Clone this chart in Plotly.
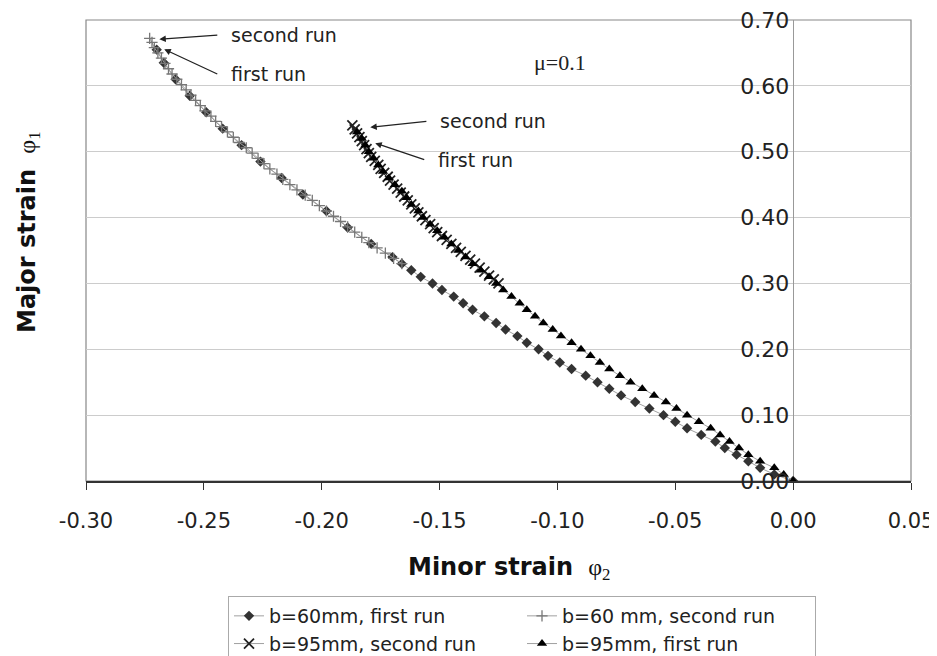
import plotly.graph_objects as go

# b=60mm, first run (diamonds)
b60_first_x = [0.000, -0.008, -0.014, -0.019, -0.024, -0.029, -0.033, -0.039, -0.045, -0.050,
               -0.055, -0.061, -0.067, -0.073, -0.078, -0.083, -0.088, -0.094, -0.099, -0.104,
               -0.108, -0.113, -0.117, -0.122, -0.126, -0.131, -0.136, -0.140, -0.144, -0.149,
               -0.153, -0.158, -0.162, -0.166, -0.170,
               -0.179, -0.189, -0.198, -0.208, -0.217, -0.226, -0.234, -0.242, -0.249, -0.256,
               -0.262, -0.267, -0.270]
b60_first_y = [0.000, 0.010, 0.020, 0.030, 0.040, 0.050, 0.060, 0.070, 0.080, 0.090,
               0.100, 0.110, 0.120, 0.130, 0.140, 0.150, 0.160, 0.170, 0.180, 0.190,
               0.200, 0.210, 0.220, 0.230, 0.240, 0.250, 0.260, 0.270, 0.280, 0.290,
               0.300, 0.310, 0.320, 0.330, 0.340,
               0.360, 0.385, 0.410, 0.435, 0.460, 0.485, 0.510, 0.535, 0.560, 0.585,
               0.610, 0.635, 0.655]

# b=60 mm, second run (plus)
b60_second_x = [-0.166, -0.1695, -0.173, -0.1765, -0.180, -0.183, -0.186, -0.189, -0.192, -0.195,
                -0.198, -0.201, -0.204, -0.207, -0.2105, -0.2135, -0.2165, -0.219, -0.222, -0.2245,
                -0.227, -0.2295, -0.232, -0.235, -0.2375, -0.240, -0.2425, -0.245, -0.247, -0.2495,
                -0.2515, -0.2535, -0.2555, -0.2575, -0.2595, -0.2615, -0.2635, -0.265, -0.2665, -0.268,
                -0.2695, -0.271, -0.272, -0.273]
b60_second_y = [0.330, 0.338, 0.346, 0.354, 0.362, 0.370, 0.378, 0.386, 0.394, 0.402,
                0.410, 0.418, 0.426, 0.434, 0.442, 0.450, 0.458, 0.466, 0.474, 0.482,
                0.490, 0.498, 0.506, 0.514, 0.522, 0.530, 0.538, 0.546, 0.554, 0.562,
                0.570, 0.578, 0.586, 0.594, 0.602, 0.610, 0.618, 0.626, 0.634, 0.642,
                0.650, 0.658, 0.666, 0.672]

# b=95mm, second run (x)
b95_second_x = [-0.125, -0.127, -0.129, -0.131, -0.133, -0.135, -0.137, -0.139, -0.141, -0.143,
                -0.145, -0.147, -0.149, -0.151, -0.1525, -0.154, -0.156, -0.1575, -0.159, -0.1605,
                -0.162, -0.1635, -0.165, -0.1665, -0.168, -0.1695, -0.171, -0.172, -0.1735, -0.175,
                -0.176, -0.1775, -0.179, -0.180, -0.181, -0.182, -0.183, -0.184, -0.185, -0.186,
                -0.187]
b95_second_y = [0.300, 0.306, 0.312, 0.318, 0.324, 0.330, 0.336, 0.342, 0.348, 0.354,
                0.360, 0.366, 0.372, 0.378, 0.384, 0.390, 0.396, 0.402, 0.408, 0.414,
                0.420, 0.426, 0.432, 0.438, 0.444, 0.450, 0.456, 0.462, 0.468, 0.474,
                0.480, 0.486, 0.492, 0.498, 0.504, 0.510, 0.516, 0.522, 0.528, 0.534,
                0.540]

# b=95mm, first run (triangles)
b95_first_x = [0.000, -0.004, -0.008, -0.014, -0.019, -0.023, -0.027, -0.031, -0.035, -0.040,
               -0.045, -0.0495, -0.054, -0.059, -0.064, -0.069, -0.0735, -0.078, -0.082, -0.086,
               -0.090, -0.094, -0.0985, -0.102, -0.106, -0.1095, -0.113, -0.116, -0.1195, -0.123,
               -0.126, -0.129, -0.1325, -0.136, -0.139, -0.142, -0.145, -0.148, -0.151, -0.154,
               -0.157, -0.159, -0.162, -0.164, -0.166, -0.169, -0.1715, -0.174, -0.176, -0.178,
               -0.180, -0.1815, -0.183, -0.185]
b95_first_y = [0.00, 0.01, 0.02, 0.03, 0.04, 0.05, 0.06, 0.07, 0.08, 0.09,
               0.10, 0.11, 0.12, 0.13, 0.14, 0.15, 0.16, 0.17, 0.18, 0.19,
               0.20, 0.21, 0.22, 0.23, 0.24, 0.25, 0.26, 0.27, 0.28, 0.29,
               0.30, 0.31, 0.32, 0.33, 0.34, 0.35, 0.36, 0.37, 0.38, 0.39,
               0.40, 0.41, 0.42, 0.43, 0.44, 0.45, 0.46, 0.47, 0.48, 0.49,
               0.50, 0.51, 0.52, 0.53]

x_ticks = [-0.30, -0.25, -0.20, -0.15, -0.10, -0.05, 0.00, 0.05]
y_ticks = [0.00, 0.10, 0.20, 0.30, 0.40, 0.50, 0.60, 0.70]

# callout labels: (text, arrow head x, head y, tail x, tail y)
callouts = [
    ("second run", -0.2689, 0.6707, -0.2443, 0.6770),
    ("first run", -0.2668, 0.6555, -0.2443, 0.6180),
    ("second run", -0.1794, 0.5370, -0.1556, 0.5460),
    ("first run", -0.1773, 0.5130, -0.1565, 0.4880),
]

FONT = "DejaVu Sans"
SERIF = "Liberation Serif"
LINE = "#a0a0a0"

# plot area in screen pixels (page has an 8px body margin)
PX0, PX1, PY0, PY1 = 86, 911, 20, 481
PW, PH = PX1 - PX0, PY1 - PY0
OFF = 8

fig = go.Figure()
fig.add_trace(go.Scatter(
    x=b60_first_x, y=b60_first_y, mode="lines+markers", name="b=60mm, first run",
    line=dict(color=LINE, width=1),
    marker=dict(symbol="diamond", size=8, color="#333333")))
fig.add_trace(go.Scatter(
    x=b60_second_x, y=b60_second_y, mode="lines+markers", name="b=60 mm, second run",
    line=dict(color=LINE, width=1),
    marker=dict(symbol="cross-thin", size=8, color="#777777",
                line=dict(color="#777777", width=1.3))))
fig.add_trace(go.Scatter(
    x=b95_second_x, y=b95_second_y, mode="lines+markers", name="b=95mm, second run",
    line=dict(color=LINE, width=1),
    marker=dict(symbol="x-thin", size=10, color="#222222",
                line=dict(color="#222222", width=1.8))))
fig.add_trace(go.Scatter(
    x=b95_first_x, y=b95_first_y, mode="lines+markers", name="b=95mm, first run",
    line=dict(color=LINE, width=1),
    marker=dict(symbol="triangle-up", size=9, color="#000000")))

annotations = []
label_font = dict(family=FONT, size=19, color="#222222")
for t, hx, hy, tx, ty in callouts:
    annotations.append(dict(
        x=hx, y=hy, ax=tx, ay=ty, xref="x", yref="y", axref="x", ayref="y",
        text="&nbsp;&nbsp;" + t, showarrow=True, xanchor="left", yanchor="middle",
        arrowhead=2, arrowsize=1, arrowwidth=1.3, arrowcolor="#222222",
        standoff=0, font=label_font))

annotations.append(dict(x=-0.0988, y=0.636, xref="x", yref="y", text="μ=0.1", showarrow=False,
                        xanchor="center", yanchor="middle",
                        font=dict(family=SERIF, size=22, color="#222222")))

# axis titles
annotations.append(dict(
    x=(406 - PX0) / PW, y=(PY1 - 568) / PH, xref="paper", yref="paper",
    xanchor="left", yanchor="middle", showarrow=False,
    text="<b>Minor strain</b>  <span style='font-family:Liberation Serif'>φ<sub>2</sub></span>",
    font=dict(family=FONT, size=24, color="#111111")))
annotations.append(dict(
    x=(28 - PX0) / PW, y=(PY1 - 232) / PH, xref="paper", yref="paper",
    xanchor="center", yanchor="middle", showarrow=False, textangle=-90,
    text="<b>Major strain</b>  <span style='font-family:Liberation Serif'>φ<sub>1</sub></span>",
    font=dict(family=FONT, size=24, color="#111111")))

fig.update_layout(
    width=937, height=656,
    margin=dict(l=PX0 - OFF, r=937 - (PX1 - OFF), t=PY0 - OFF, b=656 - (PY1 - OFF),
                autoexpand=False),
    paper_bgcolor="white", plot_bgcolor="white",
    font=dict(family=FONT, size=22, color="#222222"),
    showlegend=True,
    legend=dict(
        orientation="h", x=(228 - PX0) / PW, y=(PY1 - 596) / PH,
        xanchor="left", yanchor="top",
        bordercolor="#aaaaaa", borderwidth=1, bgcolor="white",
        font=dict(family=FONT, size=19, color="#222222"),
        entrywidth=248, entrywidthmode="pixels", itemwidth=30,
        tracegroupgap=0, traceorder="normal"),
    xaxis=dict(
        range=[-0.30, 0.05], tickvals=x_ticks, ticktext=[f"{v:.2f}" for v in x_ticks],
        showgrid=False, zeroline=True, zerolinecolor="#999999", zerolinewidth=1,
        showline=True, linecolor="#333333", linewidth=1.5,
        ticks="outside", ticklen=7, tickcolor="#333333", ticklabelstandoff=13,
        automargin=False, ticklabeloverflow="allow",
        tickfont=dict(family=FONT, size=21, color="#222222")),
    yaxis=dict(
        range=[0.0, 0.70], tickvals=y_ticks, ticktext=[f"{v:.2f}" for v in y_ticks],
        anchor="free", position=0.30 / 0.35,
        showgrid=True, gridcolor="#cccccc", gridwidth=1,
        zeroline=False, showline=False, automargin=False,
        ticks="", ticklabelstandoff=4, ticklabeloverflow="allow",
        tickfont=dict(family=FONT, size=22, color="#222222")),
    annotations=annotations,
    shapes=[dict(type="rect", xref="paper", yref="paper", x0=0, y0=0, x1=1, y1=1,
                 line=dict(color="#888888", width=1.2), layer="below")],
)

fig.write_html("out.html")
